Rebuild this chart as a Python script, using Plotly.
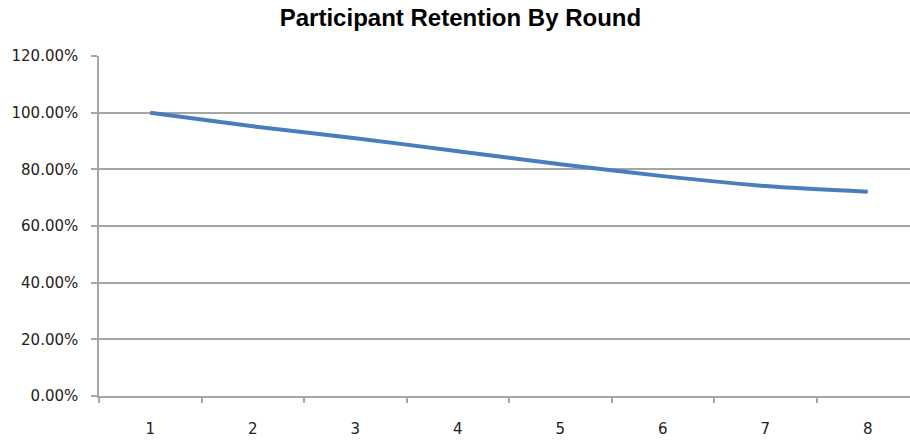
import plotly.graph_objects as go

rounds = ["1", "2", "3", "4", "5", "6", "7", "8"]
retention = [1.00, 0.952, 0.910, 0.864, 0.818, 0.776, 0.741, 0.721]
y_ticks = [0, 0.2, 0.4, 0.6, 0.8, 1.0, 1.2]

fig = go.Figure()
fig.add_trace(go.Scatter(
    x=rounds, y=retention, mode="lines",
    line=dict(color="#4A7EBB", width=4, shape="spline", smoothing=0.8),
    showlegend=False, hoverinfo="skip",
))

grid = "#A6A6A6"
fig.update_layout(
    width=910, height=440,
    margin=dict(l=99, r=0, t=56, b=44),
    paper_bgcolor="white", plot_bgcolor="white",
    title=dict(text="<b>Participant Retention By Round</b>", x=0.506, xanchor="center",
               yref="container", y=1 - 18 / 440, yanchor="middle",
               font=dict(family="Liberation Sans, Arial", size=24, color="black")),
)
fig.update_xaxes(
    type="category", range=[-0.5, 7.412], tickson="boundaries",
    ticks="outside", ticklen=5, tickcolor=grid, tickwidth=1.5,
    showline=True, linecolor=grid, linewidth=1.5, showgrid=False,
    tickfont=dict(family="DejaVu Sans", size=15, color="#222"),
    ticklabelstandoff=18,
)
fig.update_yaxes(
    range=[0, 1.2], tickvals=y_ticks, tickformat=".2%",
    ticks="outside", ticklen=6, tickcolor=grid, tickwidth=1.5,
    showline=True, linecolor=grid, linewidth=1.5,
    showgrid=True, gridcolor=grid, gridwidth=1.5, zeroline=False,
    tickfont=dict(family="DejaVu Sans", size=15, color="#222"),
    ticklabelstandoff=10,
)
fig.write_html("out.html", config={"displayModeBar": False},
               post_script="document.body.style.margin='0';")
